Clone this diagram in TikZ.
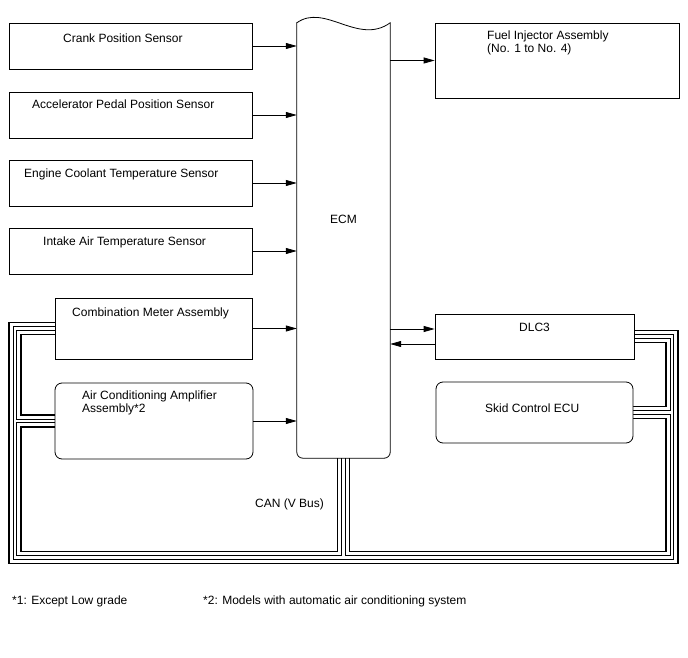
\documentclass[tikz,border=0pt]{standalone}
\usepackage{fontspec}
\setmainfont{Liberation Sans}
\usetikzlibrary{arrows.meta,backgrounds}
\begin{document}
\begin{tikzpicture}[x=1pt,y=-1pt,
  font=\fontsize{12}{13.5}\selectfont,
  blk/.style={draw,fill=white,inner sep=0pt,line width=0.8pt},
  rblk/.style={blk,rounded corners=7pt},
  lbl/.style={inner sep=0pt,anchor=base west},
  mlbl/.style={inner sep=0pt,anchor=north west,align=left},
  sig/.style={line width=0.8pt,-{Triangle[length=11pt,width=6pt]}},
]
\useasboundingbox (0,0) rectangle (688,658);

% boxes
\node[blk,minimum width=243pt,minimum height=46pt] (crank) at (130.5,46) {};
\node[blk,minimum width=243pt,minimum height=46pt] (accel) at (130.5,115) {};
\node[blk,minimum width=243pt,minimum height=46pt] (cool) at (130.5,183) {};
\node[blk,minimum width=243pt,minimum height=46pt] (intake) at (130.5,251) {};
\node[blk,minimum width=197pt,minimum height=61pt] (comb) at (153.5,328.5) {};
\node[rblk,minimum width=198pt,minimum height=76pt] (ac) at (154,421) {};
\node[blk,minimum width=244pt,minimum height=75pt] (fuel) at (557,60.5) {};
\node[blk,minimum width=199pt,minimum height=45pt] (dlc) at (534.5,336.5) {};
\node[rblk,minimum width=197pt,minimum height=61pt] (skid) at (534.5,412.5) {};
\node[inner sep=0pt,minimum width=93pt,minimum height=435pt] (ecm) at (343.5,240.5) {};

% ECM outline
\draw[line width=0.8pt,rounded corners=6pt,line cap=round] (ecm.north east) -- (ecm.south east) -- (ecm.south west) -- (ecm.north west);
\draw[line width=0.8pt,line cap=round] (ecm.north west) .. controls +(28,-20) and +(-32,23) .. (ecm.north east);

% labels
\node[lbl] (tcrank) at (63,43) {Crank Position Sensor};
\node[lbl] (taccel) at (32,109) {Accelerator Pedal Position Sensor};
\node[lbl] (tcool) at (24,177) {Engine Coolant Temperature Sensor};
\node[lbl] (tintake) at (43,245) {Intake Air Temperature Sensor};
\node[lbl] (tcomb) at (72,316) {Combination Meter Assembly};
\node[mlbl] (tac) at (82,390.2) {Air Conditioning Amplifier\\Assembly*2};
\node[mlbl] (tfuel) at (487,30.5) {Fuel Injector Assembly\\(No. 1 to No. 4)};
\node[inner sep=0pt,anchor=base] (tdlc) at (534.5,331.5) {DLC3};
\node[lbl] (tskid) at (485,412) {Skid Control ECU};
\node[inner sep=0pt,anchor=base] (tecm) at (343.5,223.5) {ECM};
\node[lbl] (tcan) at (255,507) {CAN (V Bus)};
\node[lbl] (fn1) at (12,604) {*1: Except Low grade};
\node[lbl] (fn2) at (203,604) {*2: Models with automatic air conditioning system};

% signal arrows
\draw[sig] (crank.east) -- (crank.east -| ecm.west);
\draw[sig] (accel.east) -- (accel.east -| ecm.west);
\draw[sig] (cool.east) -- (cool.east -| ecm.west);
\draw[sig] (intake.east) -- (intake.east -| ecm.west);
\draw[sig] (comb.east) -- (comb.east -| ecm.west);
\draw[sig] (ac.east) -- (ac.east -| ecm.west);
\draw[sig] (fuel.west -| ecm.east) -- (fuel.west);
\draw[sig] ([yshift=7.5pt]dlc.west -| ecm.east) -- ([yshift=7.5pt]dlc.west);
\draw[sig] ([yshift=-7.5pt]dlc.west) -- ([yshift=-7.5pt]dlc.west -| ecm.east);

% CAN bus
\coordinate (bl) at (15,557.5);
\coordinate (br) at (672,557.5);
\begin{pgfonlayer}{background}
\foreach \w/\c in {13.9/black,10.1/white,4.3/black,2.9/white}
  \draw[line width=\w pt,draw=\c] (comb.west) -| (bl) -- (br) |- (dlc.east)
    (ac.west) -- (ac.west -| bl)
    (skid.east) -- (skid.east -| br)
    (ecm.south) -- (ecm.south |- bl);
\end{pgfonlayer}
\end{tikzpicture}
\end{document}
